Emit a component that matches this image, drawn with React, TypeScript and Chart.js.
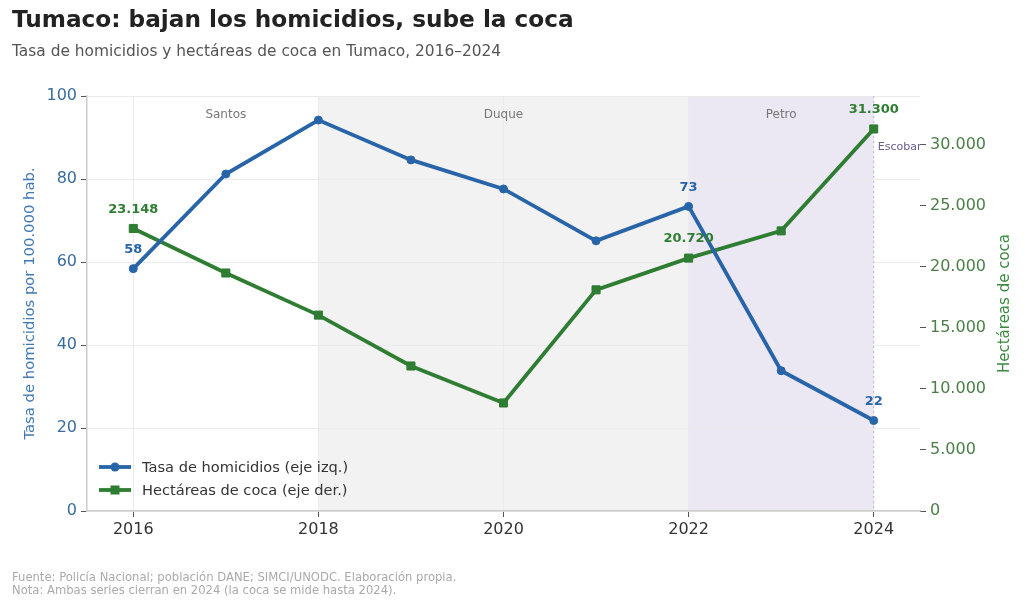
import React, { useEffect, useRef } from 'react';
import { Chart, registerables } from 'chart.js';

Chart.register(...registerables);

// data
const years = [2016, 2017, 2018, 2019, 2020, 2021, 2022, 2023, 2024];
const homicideRate = [58.4, 81.2, 94.2, 84.6, 77.6, 65.1, 73.4, 33.8, 21.8];
const cocaHectares = [23148, 19500, 16050, 11880, 8850, 18120, 20720, 22950, 31300];
const labelledYears = [2016, 2022, 2024];

const yearTicks = [2016, 2018, 2020, 2022, 2024];
const rateTicks = [0, 20, 40, 60, 80, 100];
const hectareTicks = [0, 5000, 10000, 15000, 20000, 25000, 30000];

const periodNames = ['Santos', 'Duque', 'Petro'];
const periodStarts = [2015.5, 2018, 2022];
const periodEnds = [2018, 2022, 2024];
const escobarYear = 2024;

const BLUE = '#2864a8';
const GREEN = '#2e7d32';
const FONT = "'DejaVu Sans', sans-serif";
const periodFills = ['rgba(255,255,255,0)', '#f2f2f2', '#ece8f3'];

const fmt = (n: number) => String(Math.round(n)).replace(/\B(?=(\d{3})+(?!\d))/g, '.');

const decorations = {
  id: 'decorations',
  beforeDraw(chart: any) {
    const { ctx, chartArea, scales } = chart;
    const x = scales.x;
    ctx.save();
    periodNames.forEach((_, i) => {
      const x0 = x.getPixelForValue(periodStarts[i]);
      const x1 = x.getPixelForValue(periodEnds[i]);
      ctx.fillStyle = periodFills[i];
      ctx.fillRect(x0, chartArea.top, x1 - x0, chartArea.bottom - chartArea.top);
    });
    ctx.restore();
  },
  beforeDatasetsDraw(chart: any) {
    const { ctx, chartArea, scales } = chart;
    const x = scales.x;
    ctx.save();
    ctx.font = `12px ${FONT}`;
    ctx.fillStyle = '#777';
    ctx.textAlign = 'center';
    ctx.textBaseline = 'middle';
    periodNames.forEach((name, i) => {
      const mid = (Math.max(periodStarts[i], years[0]) + periodEnds[i]) / 2;
      ctx.fillText(name, x.getPixelForValue(mid), chartArea.top + 19);
    });
    const ex = x.getPixelForValue(escobarYear);
    ctx.strokeStyle = '#bdb0d3';
    ctx.lineWidth = 1;
    ctx.setLineDash([2, 3]);
    ctx.beginPath();
    ctx.moveTo(ex, chartArea.top);
    ctx.lineTo(ex, chartArea.bottom);
    ctx.stroke();
    ctx.setLineDash([]);
    ctx.font = `11px ${FONT}`;
    ctx.fillStyle = '#6b5b8e';
    ctx.textAlign = 'left';
    ctx.fillText('Escobar', ex + 4, chartArea.top + 51);
    ctx.restore();
  },
  afterDatasetsDraw(chart: any) {
    const { ctx, scales, chartArea } = chart;
    const x = scales.x;
    ctx.save();
    ctx.font = `bold 13px ${FONT}`;
    ctx.textAlign = 'center';
    ctx.textBaseline = 'middle';
    labelledYears.forEach((yr) => {
      const i = years.indexOf(yr);
      const px = x.getPixelForValue(yr);
      ctx.fillStyle = BLUE;
      ctx.fillText(String(Math.round(homicideRate[i])), px, scales.y.getPixelForValue(homicideRate[i]) - 19);
      ctx.fillStyle = GREEN;
      ctx.fillText(fmt(cocaHectares[i]), px, scales.y1.getPixelForValue(cocaHectares[i]) - 19);
    });

    // legend
    const items = [
      { label: 'Tasa de homicidios (eje izq.)', color: BLUE, square: false },
      { label: 'Hectáreas de coca (eje der.)', color: GREEN, square: true },
    ];
    const lx = chartArea.left + 12;
    items.forEach((it, k) => {
      const ly = chartArea.bottom - 44 + k * 23;
      ctx.strokeStyle = it.color;
      ctx.lineWidth = 3.8;
      ctx.beginPath();
      ctx.moveTo(lx, ly);
      ctx.lineTo(lx + 32, ly);
      ctx.stroke();
      ctx.fillStyle = it.color;
      if (it.square) {
        ctx.fillRect(lx + 11.5, ly - 4.5, 9, 9);
      } else {
        ctx.beginPath();
        ctx.arc(lx + 16, ly, 4.5, 0, Math.PI * 2);
        ctx.fill();
      }
      ctx.font = `14.6px ${FONT}`;
      ctx.fillStyle = '#333';
      ctx.textAlign = 'left';
      ctx.fillText(it.label, lx + 43, ly + 1);
    });
    ctx.restore();
  },
  afterDraw(chart: any) {
    const { ctx, chartArea } = chart;
    const cy = (chartArea.top + chartArea.bottom) / 2;
    ctx.save();
    ctx.font = `14.8px ${FONT}`;
    ctx.textAlign = 'center';
    ctx.textBaseline = 'middle';
    ctx.translate(30, cy);
    ctx.rotate(-Math.PI / 2);
    ctx.fillStyle = '#4079b3';
    ctx.fillText('Tasa de homicidios por 100.000 hab.', 0, 0);
    ctx.restore();
    ctx.save();
    ctx.font = `15px ${FONT}`;
    ctx.textAlign = 'center';
    ctx.textBaseline = 'middle';
    ctx.translate(1005, cy);
    ctx.rotate(-Math.PI / 2);
    ctx.fillStyle = '#3b8a40';
    ctx.fillText('Hectáreas de coca', 0, 0);
    ctx.restore();
  },
};

const TumacoChart: React.FC = () => {
  const canvasRef = useRef<HTMLCanvasElement>(null);

  useEffect(() => {
    if (!canvasRef.current) return;
    const chart = new Chart(canvasRef.current, {
      type: 'line',
      data: {
        datasets: [
          {
            label: 'Tasa de homicidios (eje izq.)',
            data: years.map((yr, i) => ({ x: yr, y: homicideRate[i] })),
            borderColor: BLUE,
            backgroundColor: BLUE,
            borderWidth: 3.8,
            pointRadius: 4,
            pointBorderWidth: 1,
            pointStyle: 'circle',
            yAxisID: 'y',
          },
          {
            label: 'Hectáreas de coca (eje der.)',
            data: years.map((yr, i) => ({ x: yr, y: cocaHectares[i] })),
            borderColor: GREEN,
            backgroundColor: GREEN,
            borderWidth: 3.8,
            pointRadius: 5.7,
            pointBorderWidth: 1,
            pointStyle: 'rect',
            yAxisID: 'y1',
          },
        ],
      },
      options: {
        animation: false,
        responsive: false,
        devicePixelRatio: 1,
        layout: { padding: { top: 96, bottom: 51, left: 0, right: 0 } },
        plugins: { legend: { display: false }, tooltip: { enabled: false } },
        scales: {
          x: {
            type: 'linear',
            min: 2015.5,
            max: 2024.5,
            afterBuildTicks: (s: any) => { s.ticks = yearTicks.map((v) => ({ value: v })); },
            afterFit: (s: any) => { s.height = 40; },
            ticks: { color: '#333', font: { family: FONT, size: 16 }, padding: 3, callback: (v: any) => String(v) },
            grid: { color: '#ebebeb', tickColor: '#555', tickLength: 6 },
            border: { color: '#cccccc', width: 1.5 },
          },
          y: {
            position: 'left',
            min: 0,
            max: 100,
            afterBuildTicks: (s: any) => { s.ticks = rateTicks.map((v) => ({ value: v })); },
            afterFit: (s: any) => { s.width = 87; },
            ticks: { color: '#3a6d9c', font: { family: FONT, size: 16 }, padding: 4 },
            grid: { color: '#ebebeb', tickColor: '#555', tickLength: 6 },
            border: { color: '#cccccc', width: 1.5 },
          },
          y1: {
            position: 'right',
            min: 0,
            max: 34000,
            afterBuildTicks: (s: any) => { s.ticks = hectareTicks.map((v) => ({ value: v })); },
            afterFit: (s: any) => { s.width = 104; },
            ticks: { color: '#4b7f47', font: { family: FONT, size: 16 }, padding: 4, callback: (v: any) => fmt(Number(v)) },
            grid: { drawOnChartArea: false, tickColor: '#555', tickLength: 6 },
            border: { display: false },
          },
        },
      },
      plugins: [decorations],
    });
    return () => chart.destroy();
  }, []);

  return <canvas ref={canvasRef} width={1024} height={602} style={{ position: 'absolute', left: 0, top: 0 }} />;
};

export default function App() {
  return (
    <div style={{ position: 'fixed', left: 0, top: 0, width: 1024, height: 602, background: '#fff', fontFamily: FONT, overflow: 'hidden' }}>
      <TumacoChart />
      <div style={{ position: 'absolute', left: 12, top: 7, fontSize: 23.2, lineHeight: '23px', fontWeight: 'bold', color: '#222' }}>
        Tumaco: bajan los homicidios, sube la coca
      </div>
      <div style={{ position: 'absolute', left: 12, top: 44, fontSize: 15.4, lineHeight: '15px', color: '#555' }}>
        Tasa de homicidios y hectáreas de coca en Tumaco, 2016–2024
      </div>
      <div style={{ position: 'absolute', left: 12, top: 571, fontSize: 11.6, lineHeight: '13px', color: '#aaa' }}>
        Fuente: Policía Nacional; población DANE; SIMCI/UNODC. Elaboración propia.
        <br />
        Nota: Ambas series cierran en 2024 (la coca se mide hasta 2024).
      </div>
    </div>
  );
}
